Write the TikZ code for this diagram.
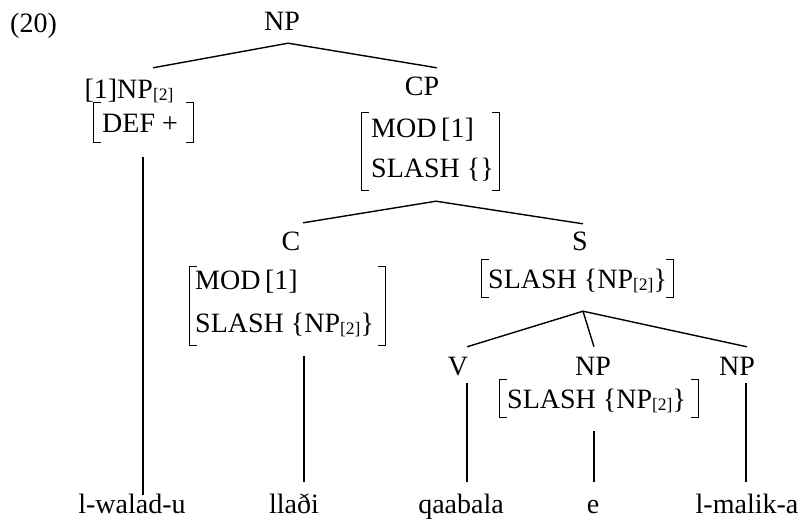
\documentclass[tikz,border=0pt]{standalone}
\usepackage{fontspec}
\setmainfont{Liberation Serif}
\newcommand{\ix}[1]{\raisebox{-2pt}{\fontsize{17.5}{18}\selectfont[#1]}}
\newcommand{\avmbrackets}[1]{%
  \draw[bracket] ([xshift=7pt]#1.north west) -- (#1.north west) -- (#1.south west) -- ([xshift=7pt]#1.south west);
  \draw[bracket] ([xshift=-7pt]#1.north east) -- (#1.north east) -- (#1.south east) -- ([xshift=-7pt]#1.south east);}

\begin{document}
\begin{tikzpicture}[x=1pt, y=-1pt,
  font=\fontsize{28}{33}\selectfont,
  cat/.style={inner sep=0pt, text height=18pt, text depth=0pt, anchor=base},
  word/.style={inner sep=0pt, text height=18pt, text depth=0pt, anchor=base},
  feat/.style={inner sep=0pt, anchor=base west},
  avm/.style={inner sep=0pt},
  bracket/.style={line width=1.3pt},
  branch/.style={line width=1.4pt}]
\useasboundingbox (0,0) rectangle (805,523);
%%%% Example number and root
\node[inner sep=0pt, anchor=base west] (exno) at (10,32) {(20)};
\node[cat] (np0) at (282,30) {NP};
%%%% Daughters of the root
\node[cat] (np1) at (129,98) {[1]NP\ix{2}};
\node[avm, minimum width=99pt, minimum height=39pt] (defavm) at (143.5,122.5) {};
\avmbrackets{defavm}
\node[feat] (def) at (102,132) {DEF +};
\node[cat] (cp) at (422,95) {CP};
\node[avm, minimum width=137pt, minimum height=77pt] (cpavm) at (430.5,151.5) {};
\avmbrackets{cpavm}
\node[feat] (cpmod) at (371,137) {MOD\,[1]};
\node[feat] (cpslash) at (371,177) {SLASH \{\}};
%%%% C and S
\node[cat] (c) at (291,250) {C};
\node[avm, minimum width=195pt, minimum height=78pt] (cavm) at (287.5,306) {};
\avmbrackets{cavm}
\node[feat] (cmod) at (195,289) {MOD\,[1]};
\node[feat] (cslash) at (195,332) {SLASH \{NP\ix{2}\}};
\node[cat] (s) at (580,250) {S};
\node[avm, minimum width=191pt, minimum height=37pt] (savm) at (577.5,278.5) {};
\avmbrackets{savm}
\node[feat] (sslash) at (488,288) {SLASH \{NP\ix{2}\}};
%%%% V, NP, NP
\node[cat] (v) at (458,375) {V};
\node[cat] (npm) at (593,375) {NP};
\node[avm, minimum width=198pt, minimum height=37pt] (npmavm) at (599,398.5) {};
\avmbrackets{npmavm}
\node[feat] (npmslash) at (507,408) {SLASH \{NP\ix{2}\}};
\node[cat] (npr) at (737,375) {NP};
%%%% Words
\node[word] (walad) at (132,513) {l-walad-u};
\node[word] (lladi) at (294,513) {llaði};
\node[word] (qaabala) at (461,513) {qaabala};
\node[word] (e) at (593,513) {e};
\node[word] (malik) at (747,513) {l-malik-a};

%%%% Branches
\draw[branch] ([xshift=24pt,yshift=12pt]np1.north) -- ([xshift=6pt,yshift=-13pt]np0.south) -- ([xshift=15pt,yshift=9pt]cp.north);
\draw[branch] ([xshift=12pt,yshift=9pt]c.north) -- ([xshift=5.5pt,yshift=-11pt]cpavm.south) -- ([xshift=3pt,yshift=8pt]s.north);
\draw[branch] ([xshift=9pt,yshift=10pt]v.north) -- ([xshift=5.5pt,yshift=-14pt]savm.south) -- ([xshift=10pt,yshift=10pt]npr.north);
\draw[branch] ([xshift=5.5pt,yshift=-14pt]savm.south) -- ([xshift=1pt,yshift=10pt]npm.north);
%%%% Stems down to the words
\draw[branch] ([xshift=-0.5pt,yshift=-15pt]defavm.south) -- ([xshift=11pt]walad.north);
\draw[branch] ([xshift=16.5pt,yshift=-11pt]cavm.south) -- ([xshift=10pt,yshift=13pt]lladi.north);
\draw[branch] ([xshift=9pt,yshift=-8pt]v.south) -- ([xshift=6pt,yshift=13pt]qaabala.north);
\draw[branch] ([xshift=-5pt,yshift=-14pt]npmavm.south) -- ([xshift=1pt,yshift=13pt]e.north);
\draw[branch] ([xshift=9pt,yshift=-8pt]npr.south) -- ([xshift=-1pt,yshift=13pt]malik.north);
\end{tikzpicture}
\end{document}
